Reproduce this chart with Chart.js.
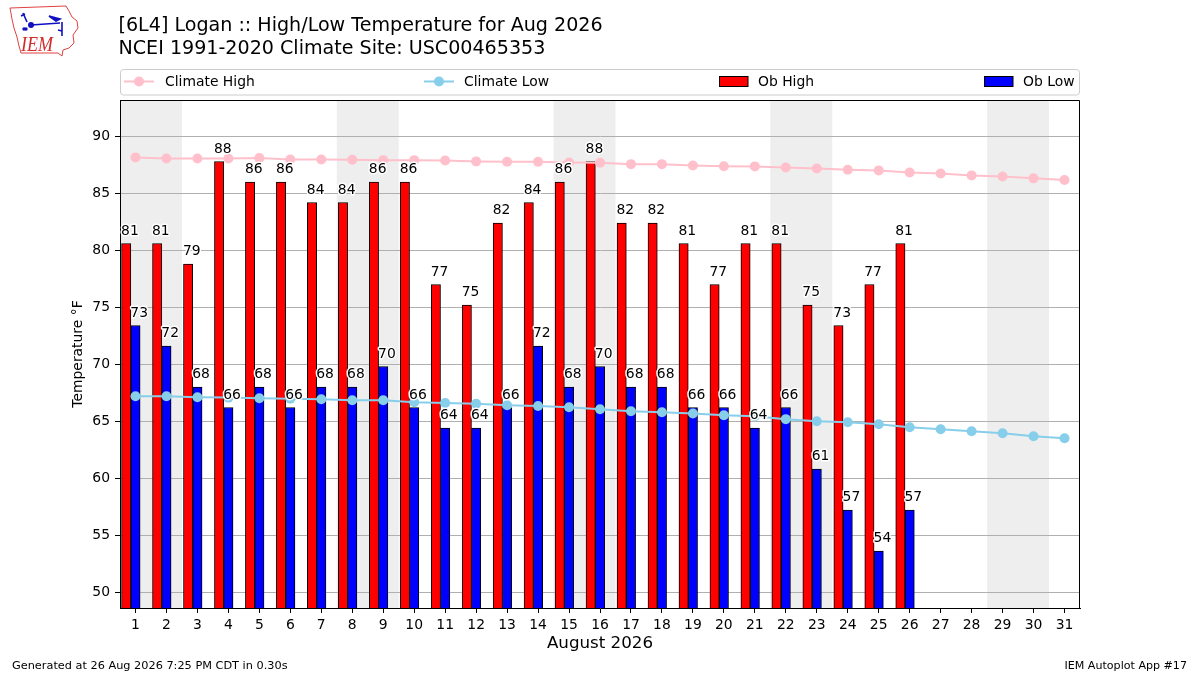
<!DOCTYPE html>
<html>
<head>
<meta charset="utf-8">
<script src="https://cdn.jsdelivr.net/npm/chart.js@4.4.1/dist/chart.umd.min.js"></script>
<style>
  html, body { margin: 0; padding: 0; background: #ffffff; }
  #wrap { position: relative; width: 1200px; height: 675px; overflow: hidden; background: #ffffff; }
  #c { position: absolute; left: 0; top: 0; }
  #overlay { position: absolute; left: 0; top: 0; pointer-events: none; }
  #overlay text { font-family: "DejaVu Sans", sans-serif; fill: #000; }
</style>
</head>
<body>
<div id="wrap">
  <canvas id="c" width="1200" height="675"></canvas>
  <svg id="overlay" width="1200" height="675" xmlns="http://www.w3.org/2000/svg">
    <!-- IEM logo (approximation) -->
    <g id="logo">
      <path d="M10,8 L66,6 L69,11 L72,17 L77,21 L78,28 L73,35 L74,43 L69,48 L63,50 L62,56 L58,53 L21,53 L19,46 L17,37 L14,28 L12,19 Z"
            fill="none" stroke="#e0413f" stroke-width="1"/>
      <g stroke="#1010c0" fill="#1010c0" stroke-width="1.6">
        <line x1="31" y1="25" x2="60" y2="23"/>
        <circle cx="31" cy="25" r="2.2"/>
        <line x1="23" y1="13" x2="27" y2="22"/>
        <line x1="21" y1="16" x2="25" y2="14"/>
        <path d="M49,16 L60,19 L56,21 Z"/>
        <line x1="62" y1="22" x2="62" y2="36"/>
        <line x1="58" y1="30" x2="62" y2="31"/>
        <circle cx="24" cy="29" r="0.9"/>
        <circle cx="26" cy="29" r="0.9"/>
      </g>
      <text x="21" y="51" font-size="20" textLength="32" lengthAdjust="spacingAndGlyphs"
            style="font-family:'Liberation Serif',serif;font-style:italic;fill:#d42a2a">IEM</text>
    </g>
    <text id="t1" x="118.5" y="30.5" font-size="19.1">[6L4] Logan :: High/Low Temperature for Aug 2026</text>
    <text id="t2" x="118.5" y="53.5" font-size="19.1">NCEI 1991-2020 Climate Site: USC00465353</text>
    <rect x="120.5" y="69.5" width="959" height="25.5" rx="3" ry="3" fill="#ffffff" stroke="#cccccc" stroke-width="1"/>
    <g id="legend"></g>
    <text x="12" y="669" font-size="11.3">Generated at 26 Aug 2026 7:25 PM CDT in 0.30s</text>
    <text x="1187" y="669" font-size="11.1" text-anchor="end">IEM Autoplot App #17</text>
  </svg>
</div>
<script>
// ---------------- data ----------------
const days = [1,2,3,4,5,6,7,8,9,10,11,12,13,14,15,16,17,18,19,20,21,22,23,24,25,26,27,28,29,30,31];
const yTicks = [50,55,60,65,70,75,80,85,90];
const obHigh = [80.6,80.6,78.8,87.8,86,86,84.2,84.2,86,86,77,75.2,82.4,84.2,86,87.8,82.4,82.4,80.6,77,80.6,80.6,75.2,73.4,77,80.6];
const obLow  = [73.4,71.6,68,66.2,68,66.2,68,68,69.8,66.2,64.4,64.4,66.2,71.6,68,69.8,68,68,66.2,66.2,64.4,66.2,60.8,57.2,53.6,57.2];
const climHigh = [88.16,88.07,88.07,88.07,88.1,87.98,87.98,87.95,87.92,87.92,87.89,87.81,87.78,87.78,87.72,87.69,87.57,87.57,87.45,87.39,87.37,87.28,87.18,87.07,87.02,86.84,86.75,86.58,86.49,86.32,86.17];
const climLow  = [67.19,67.19,67.1,67.07,67.02,66.98,66.93,66.84,66.84,66.67,66.6,66.54,66.4,66.34,66.23,66.05,65.88,65.79,65.67,65.53,65.44,65.18,65.0,64.91,64.74,64.47,64.3,64.12,63.95,63.68,63.5];
const weekendStarts = [1, 8, 15, 22, 29];
const seriesLabels = ['Climate High', 'Climate Low', 'Ob High', 'Ob Low'];
const xTitle = 'August 2026';
const yTitle = 'Temperature \u00B0F';

// ---------------- style ----------------
const FONT = '"DejaVu Sans", sans-serif';
const COLORS = { climHigh: '#FFC0CB', climLow: '#87CEEB', obHigh: '#FF0000', obLow: '#0000FF' };
const HIGH_OFFSET = -0.3;   // red bars sit left of the day
const LOW_OFFSET = 0;

const bandsPlugin = {
  id: 'bands',
  beforeDraw(chart) {
    const { ctx, chartArea: a, scales: { x } } = chart;
    ctx.save();
    ctx.fillStyle = '#eeeeee';
    weekendStarts.forEach(d => {
      const x0 = Math.max(x.getPixelForValue(d - 0.5), a.left);
      const x1 = Math.min(x.getPixelForValue(d + 1.5), a.right);
      ctx.fillRect(x0, a.top, x1 - x0, a.bottom - a.top);
    });
    ctx.restore();
  }
};

const labelPlugin = {
  id: 'barLabels',
  afterDatasetsDraw(chart) {
    const ctx = chart.ctx;
    ctx.save();
    ctx.font = '13.9px ' + FONT;
    ctx.textAlign = 'left';
    ctx.textBaseline = 'alphabetic';
    ctx.lineJoin = 'round';
    chart.data.datasets.forEach((ds, di) => {
      if (ds.type !== 'bar') return;
      const meta = chart.getDatasetMeta(di);
      meta.data.forEach((el, i) => {
        const txt = String(Math.round(ds.data[i].y));
        const tx = el.x - el.width / 2 - 0.5;
        const ty = el.y - 9;
        ctx.strokeStyle = '#ffffff';
        ctx.lineWidth = 3;
        ctx.strokeText(txt, tx, ty);
        ctx.fillStyle = '#000000';
        ctx.fillText(txt, tx, ty);
      });
    });
    ctx.restore();
  },
  afterDraw(chart) {
    const { ctx, chartArea: a } = chart;
    ctx.save();
    ctx.strokeStyle = '#000000';
    ctx.lineWidth = 1;
    ctx.beginPath();
    ctx.moveTo(Math.round(a.left) + 0.5, Math.round(a.top) + 0.5);
    ctx.lineTo(Math.round(a.right) - 0.5, Math.round(a.top) + 0.5);
    ctx.lineTo(Math.round(a.right) - 0.5, Math.round(a.bottom));
    ctx.stroke();
    ctx.restore();
  }
};

const ctx = document.getElementById('c').getContext('2d');
const chart = new Chart(ctx, {
  type: 'bar',
  data: {
    datasets: [
      {
        type: 'line', label: seriesLabels[0],
        data: days.map((d, i) => ({ x: d, y: climHigh[i] })),
        borderColor: COLORS.climHigh, backgroundColor: COLORS.climHigh,
        pointBackgroundColor: COLORS.climHigh, pointBorderColor: COLORS.climHigh,
        pointRadius: 5, pointBorderWidth: 0, borderWidth: 2, tension: 0, order: 1
      },
      {
        type: 'line', label: seriesLabels[1],
        data: days.map((d, i) => ({ x: d, y: climLow[i] })),
        borderColor: COLORS.climLow, backgroundColor: COLORS.climLow,
        pointBackgroundColor: COLORS.climLow, pointBorderColor: COLORS.climLow,
        pointRadius: 5, pointBorderWidth: 0, borderWidth: 2, tension: 0, order: 1
      },
      {
        type: 'bar', label: seriesLabels[2],
        data: obHigh.map((v, i) => ({ x: days[i] + HIGH_OFFSET, y: v })),
        backgroundColor: COLORS.obHigh, borderColor: '#000000', borderWidth: 1,
        grouped: false, categoryPercentage: 1, barPercentage: 1, order: 2
      },
      {
        type: 'bar', label: seriesLabels[3],
        data: obLow.map((v, i) => ({ x: days[i] + LOW_OFFSET, y: v })),
        backgroundColor: COLORS.obLow, borderColor: '#000000', borderWidth: 1,
        grouped: false, categoryPercentage: 1, barPercentage: 1, order: 2
      }
    ]
  },
  options: {
    responsive: false,
    animation: false,
    events: [],
    layout: { padding: { left: 70, right: 120, top: 100, bottom: 21 } },
    plugins: { legend: { display: false }, tooltip: { enabled: false }, title: { display: false } },
    scales: {
      x: {
        type: 'linear', min: 0.5, max: 31.5, offset: false,
        afterBuildTicks: (s) => { s.ticks = days.map(d => ({ value: d })); },
        afterFit: (s) => { s.height = 46; },
        ticks: { autoSkip: false, maxRotation: 0, padding: 4, color: '#000', font: { family: FONT, size: 13.9 },
                 callback: (v) => String(v) },
        grid: { offset: false, drawOnChartArea: false, drawTicks: true, tickLength: 5, tickColor: '#000', color: '#000' },
        border: { display: true, color: '#000', width: 1 },
        title: { display: true, text: xTitle, color: '#000', font: { family: FONT, size: 16.7 }, padding: 0 }
      },
      y: {
        type: 'linear', min: 48.6, max: 93.2,
        afterBuildTicks: (s) => { s.ticks = yTicks.map(v => ({ value: v })); },
        afterFit: (s) => { s.width = 50; },
        ticks: { padding: 5, color: '#000', font: { family: FONT, size: 13.9 } },
        grid: { offset: false, color: '#b0b0b0', lineWidth: 1, tickLength: 5, tickColor: '#000' },
        border: { display: true, color: '#000', width: 1 },
        title: { display: true, text: yTitle, color: '#000', font: { family: FONT, size: 13.9 }, padding: 0 }
      }
    }
  },
  plugins: [bandsPlugin, labelPlugin]
});

// ---------------- legend (SVG, real text) ----------------
(function buildLegend() {
  const ns = 'http://www.w3.org/2000/svg';
  const g = document.getElementById('legend');
  const items = [
    { label: seriesLabels[0], kind: 'line', color: COLORS.climHigh, hx: 124, tx: 165 },
    { label: seriesLabels[1], kind: 'line', color: COLORS.climLow, hx: 424, tx: 464 },
    { label: seriesLabels[2], kind: 'box', color: COLORS.obHigh, hx: 719, tx: 758 },
    { label: seriesLabels[3], kind: 'box', color: COLORS.obLow, hx: 984, tx: 1023 }
  ];
  const cy = 81.5;
  items.forEach(it => {
    if (it.kind === 'line') {
      const l = document.createElementNS(ns, 'line');
      l.setAttribute('x1', it.hx); l.setAttribute('x2', it.hx + 30);
      l.setAttribute('y1', cy); l.setAttribute('y2', cy);
      l.setAttribute('stroke', it.color); l.setAttribute('stroke-width', 2);
      g.appendChild(l);
      const c = document.createElementNS(ns, 'circle');
      c.setAttribute('cx', it.hx + 15); c.setAttribute('cy', cy); c.setAttribute('r', 5);
      c.setAttribute('fill', it.color);
      g.appendChild(c);
    } else {
      const r = document.createElementNS(ns, 'rect');
      r.setAttribute('x', it.hx + 0.5); r.setAttribute('y', 76.5);
      r.setAttribute('width', 28.5); r.setAttribute('height', 10);
      r.setAttribute('fill', it.color); r.setAttribute('stroke', '#000'); r.setAttribute('stroke-width', 1);
      g.appendChild(r);
    }
    const t = document.createElementNS(ns, 'text');
    t.setAttribute('x', it.tx); t.setAttribute('y', 86);
    t.setAttribute('font-size', '13.9');
    t.textContent = it.label;
    g.appendChild(t);
  });
})();
</script>
</body>
</html>
